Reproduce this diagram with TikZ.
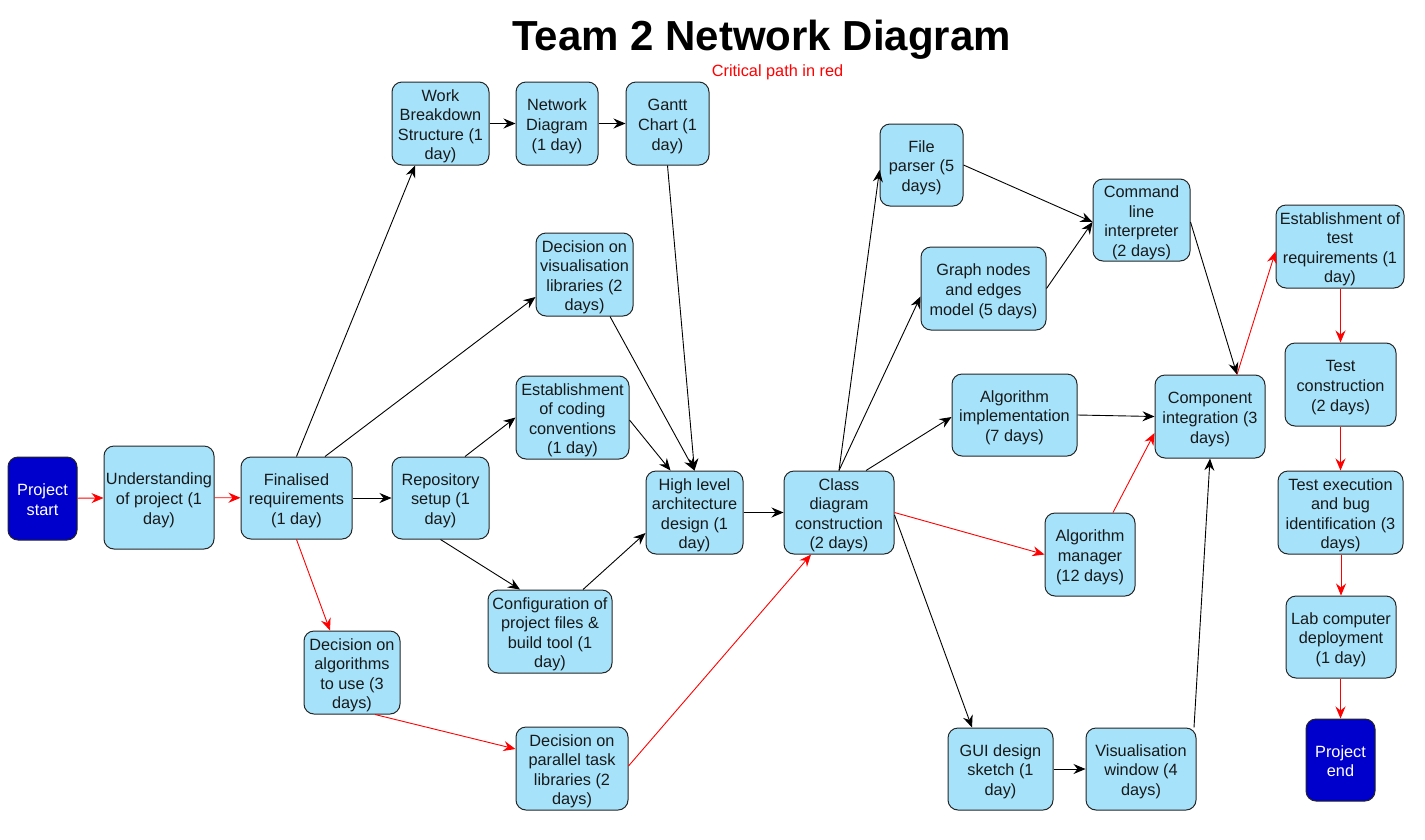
\documentclass[tikz,border=0pt]{standalone}
\usepackage{fontspec}
\setmainfont{Liberation Sans}
\usetikzlibrary{arrows.meta}
\definecolor{boxfill}{HTML}{A6E3FB}
\definecolor{darkblue}{HTML}{0000CC}
\definecolor{boxline}{HTML}{262626}
\newcommand\bt[1]{\raisebox{-3pt}[\height][\depth]{\begin{tabular}{@{}c@{}}#1\end{tabular}}}
\tikzset{
  box/.style 2 args={draw=boxline, line width=1pt, fill=boxfill, rounded corners=10pt,
    inner sep=0pt, text=black!90,
    minimum width=#1, minimum height=#2,
    font=\fontsize{16.3}{19.6}\selectfont},
  endbox/.style 2 args={box={#1}{#2}, fill=darkblue, text=white},
  blk/.style={draw=black, line width=0.9pt, -{Stealth[length=12pt,width=10pt,inset=4pt]}},
  crit/.style={draw=red, line width=0.9pt, -{Stealth[length=12pt,width=10pt,inset=4pt]}},
}
\begin{document}
\begin{tikzpicture}[x=1pt,y=1pt]
\useasboundingbox (0,0) rectangle (1425,-839);
\fill[white] (0,0) rectangle (1425,-839);

\node[font=\bfseries\fontsize{42}{50}\selectfont, anchor=base] (title) at (761.5,-50) {Team 2 Network Diagram};
\node[text=red, font=\fontsize{16.3}{19.6}\selectfont, anchor=base] (sub) at (777.5,-76) {Critical path in red};

\node[endbox={69}{83}] (start) at (42.5,-498.5) {\bt{Project\\start}};
\node[box={110}{103}] (und) at (159,-497.5) {\bt{Understanding\\of project (1\\day)}};
\node[box={111}{82}] (fin) at (296.5,-498) {\bt{Finalised\\requirements\\(1 day)}};
\node[box={97}{83}] (wbs) at (440.5,-123.5) {\bt{Work\\Breakdown\\Structure (1\\day)}};
\node[box={82}{83}] (net) at (557,-123.5) {\bt{Network\\Diagram\\(1 day)}};
\node[box={83}{83}] (gan) at (667.5,-123.5) {\bt{Gantt\\Chart (1\\day)}};
\node[box={97}{83}] (vis) at (584.5,-274.5) {\bt{Decision on\\visualisation\\libraries (2\\days)}};
\node[box={113}{83}] (cod) at (572.5,-417.5) {\bt{Establishment\\of coding\\conventions\\(1 day)}};
\node[box={97}{82}] (rep) at (440.5,-498) {\bt{Repository\\setup (1\\day)}};
\node[box={124}{83}] (cfg) at (550,-631.5) {\bt{Configuration of\\project files \&\\build tool (1\\day)}};
\node[box={96}{83}] (alg) at (352,-672.5) {\bt{Decision on\\algorithms\\to use (3\\days)}};
\node[box={112}{83}] (par) at (572,-768.5) {\bt{Decision on\\parallel task\\libraries (2\\days)}};
\node[box={97}{83}] (hla) at (694.5,-512.5) {\bt{High level\\architecture\\design (1\\day)}};
\node[box={110}{83}] (cls) at (839,-512.5) {\bt{Class\\diagram\\construction\\(2 days)}};
\node[box={83}{82}] (file) at (921.5,-165) {\bt{File\\parser (5\\days)}};
\node[box={125}{83}] (graph) at (983.5,-288.5) {\bt{Graph nodes\\and edges\\model (5 days)}};
\node[box={125}{82}] (aimpl) at (1014.5,-415) {\bt{Algorithm\\implementation\\(7 days)}};
\node[box={90}{83}] (mgr) at (1090,-554.5) {\bt{Algorithm\\manager\\(12 days)}};
\node[box={97}{82}] (cmd) at (1141.5,-220) {\bt{Command\\line\\interpreter\\(2 days)}};
\node[box={110}{83}] (comp) at (1210,-416.5) {\bt{Component\\integration (3\\days)}};
\node[box={105}{82}] (gui) at (1000.5,-769) {\bt{GUI design\\sketch (1\\day)}};
\node[box={110}{82}] (vwin) at (1141,-769) {\bt{Visualisation\\window (4\\days)}};
\node[box={128}{83}] (treq) at (1340,-246.5) {\bt{Establishment of\\test\\requirements (1\\day)}};
\node[box={111}{83}] (tcon) at (1340.5,-384.5) {\bt{Test\\construction\\(2 days)}};
\node[box={125}{83}] (texe) at (1340.5,-512.5) {\bt{Test execution\\and bug\\identification (3\\days)}};
\node[box={110}{82}] (lab) at (1341,-637) {\bt{Lab computer\\deployment\\(1 day)}};
\node[endbox={69}{82}] (pend) at (1340.5,-760) {\bt{Project\\end}};

% critical path
\draw[crit] (start) -- (und);
\draw[crit] (und) -- (fin);
\draw[crit] (fin.south) -- ([xshift=-22]alg.north);
\draw[crit] ([xshift=23]alg.south) -- ([yshift=19.5]par.west);
\draw[crit] ([yshift=2.5]par.east) -- ([xshift=-28]cls.south);
\draw[crit] (cls.east) -- (mgr.west);
\draw[crit] ([xshift=23]mgr.north) -- ([yshift=-16.5]comp.west);
\draw[crit] ([xshift=27]comp.north) -- ([yshift=-5]treq.west);
\draw[crit] (treq.south -| tcon.north) -- (tcon.north);
\draw[crit] (tcon) -- (texe);
\draw[crit] (texe.south -| lab.north) -- (lab.north);
\draw[crit] (lab.south -| pend.north) -- (pend.north);

% other dependencies
\draw[blk] (fin.north) -- ([xshift=-25.5]wbs.south);
\draw[blk] ([xshift=28.5]fin.north) -- ([yshift=-22.5]vis.west);
\draw[blk] (fin) -- (rep);
\draw[blk] (wbs) -- (net);
\draw[blk] (net) -- (gan);
\draw[blk] (gan.south) -- (hla.north);
\draw[blk] ([xshift=25.5]vis.south) -- (hla.north);
\draw[blk] ([yshift=-2.5]cod.east) -- ([xshift=-24]hla.north);
\draw[blk] ([xshift=24.5]rep.north) -- (cod.west);
\draw[blk] (rep.south) -- ([xshift=-30]cfg.north);
\draw[blk] ([xshift=33]cfg.north) -- ([yshift=-20.5]hla.west);
\draw[blk] (hla) -- (cls);
\draw[blk] (cls.north) -- ([yshift=-5]file.west);
\draw[blk] (cls.north) -- ([yshift=-8]graph.west);
\draw[blk] ([xshift=27]cls.north) -- ([yshift=-2]aimpl.west);
\draw[blk] ([yshift=-2.5]cls.east) -- ([xshift=-28.5]gui.north);
\draw[blk] (file.east) -- ([yshift=-2]cmd.west);
\draw[blk] (graph.east) -- ([yshift=-2]cmd.west);
\draw[blk] ([yshift=-2]cmd.east) -- ([xshift=27]comp.north);
\draw[blk] (aimpl.east) -- (comp.west);
\draw[blk] ([xshift=53]vwin.north) -- (comp.south);
\draw[blk] (gui) -- (vwin);
\end{tikzpicture}
\end{document}
